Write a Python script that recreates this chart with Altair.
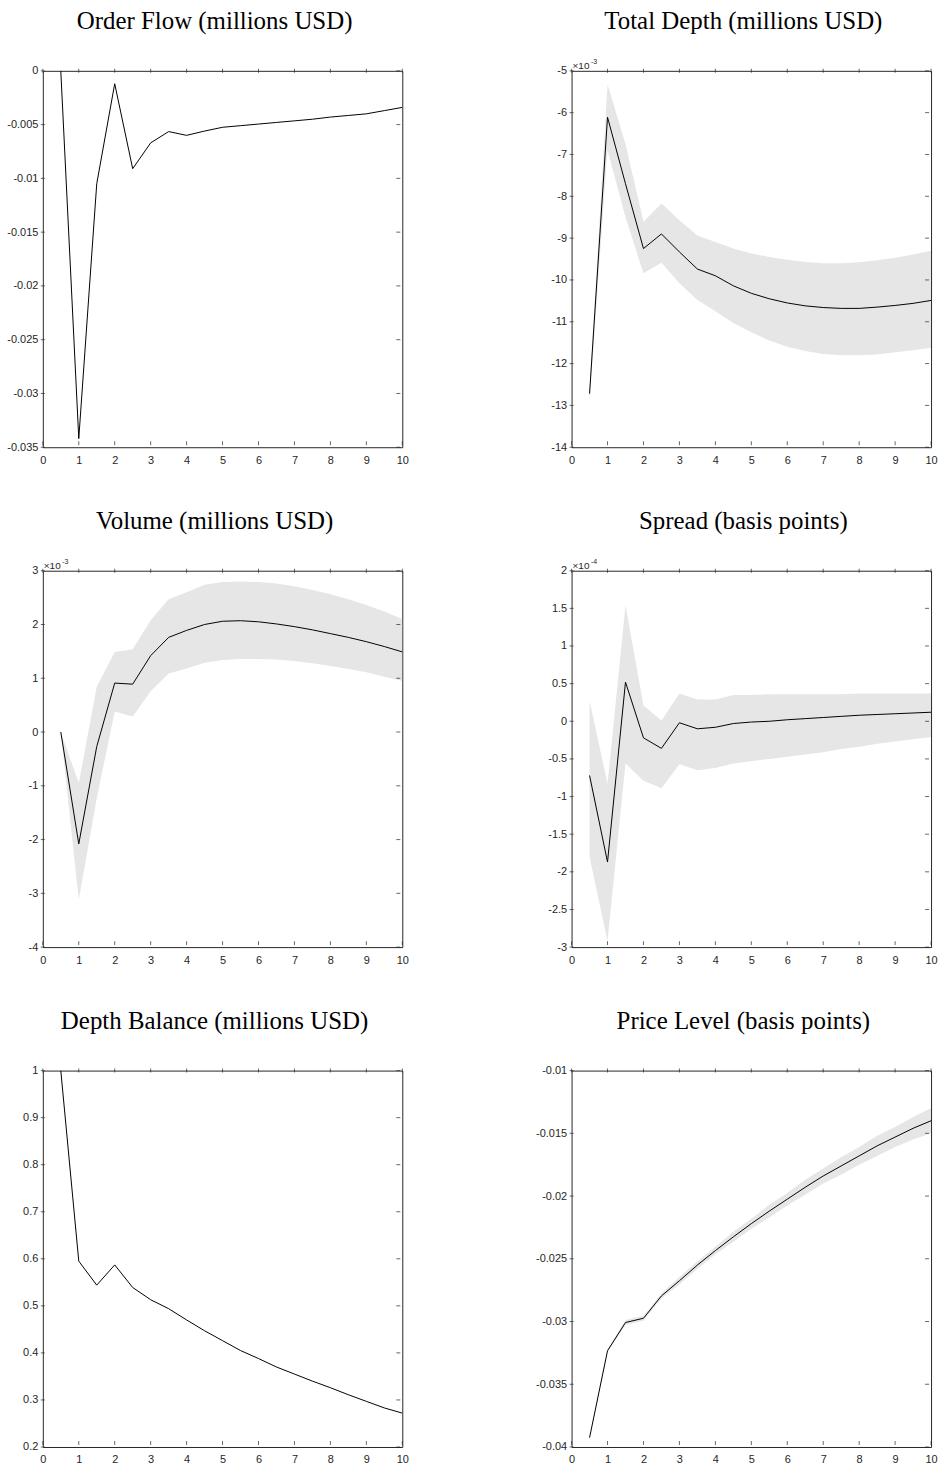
import altair as alt
import pandas as pd

# ---------------- data ----------------
xs = [0.5, 1, 1.5, 2, 2.5, 3, 3.5, 4, 4.5, 5, 5.5, 6, 6.5, 7, 7.5, 8, 8.5, 9, 9.5, 10]

order_flow = [0.0, -0.0342, -0.0105, -0.0012, -0.0091, -0.0067, -0.00565, -0.0060, -0.0056, -0.00525,
              -0.0051, -0.00495, -0.0048, -0.00465, -0.0045, -0.0043, -0.00415, -0.0040, -0.0037, -0.0034]

total_depth = [-12.72, -6.11, -7.7, -9.25, -8.90, -9.33, -9.74, -9.90, -10.14, -10.32,
               -10.45, -10.55, -10.62, -10.66, -10.68, -10.68, -10.65, -10.61, -10.56, -10.49]
total_depth_hi = [-12.6, -5.32, -6.75, -8.61, -8.17, -8.57, -8.94, -9.09, -9.25, -9.37,
                  -9.45, -9.52, -9.57, -9.60, -9.60, -9.58, -9.53, -9.47, -9.39, -9.30]
total_depth_lo = [-12.9, -6.9, -8.5, -9.84, -9.59, -10.08, -10.48, -10.75, -11.03, -11.25,
                  -11.45, -11.60, -11.70, -11.77, -11.80, -11.80, -11.78, -11.73, -11.68, -11.62]

volume = [0.0, -2.08, -0.27, 0.91, 0.89, 1.42, 1.76, 1.89, 2.0, 2.06,
          2.07, 2.05, 2.01, 1.96, 1.90, 1.83, 1.76, 1.68, 1.59, 1.49]
volume_hi = [0.0, -0.95, 0.84, 1.49, 1.54, 2.08, 2.47, 2.60, 2.74, 2.79,
             2.80, 2.79, 2.76, 2.71, 2.64, 2.56, 2.47, 2.36, 2.24, 2.10]
volume_lo = [0.0, -3.12, -1.23, 0.38, 0.29, 0.76, 1.09, 1.18, 1.29, 1.34,
             1.36, 1.36, 1.35, 1.32, 1.28, 1.23, 1.17, 1.11, 1.03, 0.95]

spread = [-0.72, -1.87, 0.52, -0.22, -0.36, -0.02, -0.10, -0.08, -0.03, -0.01,
          0.0, 0.02, 0.035, 0.05, 0.065, 0.08, 0.09, 0.10, 0.11, 0.12]
spread_hi = [0.27, -0.83, 1.54, 0.21, 0.01, 0.37, 0.29, 0.29, 0.35, 0.35,
             0.36, 0.36, 0.36, 0.36, 0.36, 0.37, 0.37, 0.37, 0.37, 0.37]
spread_lo = [-1.80, -2.92, -0.56, -0.79, -0.89, -0.57, -0.65, -0.62, -0.56, -0.53,
             -0.50, -0.47, -0.44, -0.41, -0.37, -0.34, -0.30, -0.27, -0.24, -0.21]

depth_balance = [1.0, 0.595, 0.544, 0.587, 0.539, 0.513, 0.494, 0.470, 0.447, 0.426,
                 0.405, 0.388, 0.370, 0.355, 0.340, 0.326, 0.311, 0.297, 0.283, 0.272]

price_level = [-0.03926, -0.03233, -0.03008, -0.02974, -0.02796, -0.02675, -0.0255, -0.02435, -0.02325, -0.0222,
               -0.0212, -0.02025, -0.0193, -0.0184, -0.0176, -0.0168, -0.0160, -0.0153, -0.0146, -0.0140]
price_level_hi = [-0.03921, -0.03223, -0.02988, -0.02954, -0.02776, -0.02645, -0.0252, -0.02405, -0.02285, -0.0218,
                  -0.0207, -0.01975, -0.0187, -0.0178, -0.0169, -0.0161, -0.0152, -0.0145, -0.0137, -0.0130]
price_level_lo = [-0.03931, -0.03243, -0.03028, -0.02994, -0.02816, -0.02705, -0.0258, -0.02465, -0.02365, -0.0226,
                  -0.0217, -0.02075, -0.0199, -0.0190, -0.0183, -0.0175, -0.0168, -0.0161, -0.0155, -0.0150]

x_ticks = [0, 1, 2, 3, 4, 5, 6, 7, 8, 9, 10]
of_ticks = [-0.035, -0.03, -0.025, -0.02, -0.015, -0.01, -0.005, 0]
td_ticks = [-14, -13, -12, -11, -10, -9, -8, -7, -6, -5]
vol_ticks = [-4, -3, -2, -1, 0, 1, 2, 3]
sp_ticks = [-3, -2.5, -2, -1.5, -1, -0.5, 0, 0.5, 1, 1.5, 2]
db_ticks = [0.2, 0.3, 0.4, 0.5, 0.6, 0.7, 0.8, 0.9, 1]
pl_ticks = [-0.04, -0.035, -0.03, -0.025, -0.02, -0.015, -0.01]

# ---------------- styling ----------------
W, H = 361, 378
AX = "#262626"
BAND = "#e6e6e6"
SANS = "Liberation Sans"
SERIF = "Liberation Serif"
TICK = 4


def panel(title, y, lo, hi, ydom, yvals, exp=None):
    xsc = alt.Scale(domain=[0, 10], nice=False, zero=False)
    ysc = alt.Scale(domain=ydom, nice=False, zero=False)
    common = dict(ticks=False, domain=False, grid=False, title=None,
                  labelFont=SANS, labelFontSize=11, labelColor=AX,
                  labelExpr="'' + datum.value", labelOverlap=False, labelFlush=False)
    xax = alt.Axis(values=x_ticks, labelPadding=7, **common)
    yax = alt.Axis(values=yvals, labelPadding=5, **common)

    layers = []
    if lo is not None:
        bdf = pd.DataFrame({"x": xs, "lo": lo, "hi": hi})
        layers.append(
            alt.Chart(bdf).mark_area(color=BAND, opacity=1, clip=True).encode(
                x=alt.X("x:Q", scale=xsc, axis=xax),
                y=alt.Y("lo:Q", scale=ysc, axis=yax),
                y2="hi:Q",
            )
        )
    ldf = pd.DataFrame({"x": xs, "y": y})
    layers.append(
        alt.Chart(ldf).mark_line(color="black", strokeWidth=1, clip=True).encode(
            x=alt.X("x:Q", scale=xsc, axis=xax),
            y=alt.Y("y:Q", scale=ysc, axis=yax),
        )
    )
    xt = pd.DataFrame({"t": x_ticks})
    yt = pd.DataFrame({"t": yvals})
    for ypos in (0, H - TICK):
        layers.append(
            alt.Chart(xt).mark_tick(orient="vertical", color=AX, thickness=1, size=TICK).encode(
                x=alt.X("t:Q", scale=xsc, axis=xax), y=alt.value(ypos)
            )
        )
    for xpos in (0, W - TICK):
        layers.append(
            alt.Chart(yt).mark_tick(orient="horizontal", color=AX, thickness=1, size=TICK).encode(
                y=alt.Y("t:Q", scale=ysc, axis=yax), x=alt.value(xpos)
            )
        )
    if exp is not None:
        layers.append(
            alt.Chart(pd.DataFrame({"t": ["\u00d710"]})).mark_text(
                align="left", baseline="alphabetic", font=SANS, fontSize=10, color=AX
            ).encode(x=alt.value(1), y=alt.value(-2), text="t:N")
        )
        layers.append(
            alt.Chart(pd.DataFrame({"t": [exp]})).mark_text(
                align="left", baseline="alphabetic", font=SANS, fontSize=7, color=AX
            ).encode(x=alt.value(19.5), y=alt.value(-7), text="t:N")
        )
    # panel title as a text mark
    layers.append(
        alt.Chart(pd.DataFrame({"t": [title]})).mark_text(
            align="center", baseline="alphabetic", font=SERIF, fontSize=25, color="black"
        ).encode(x=alt.value(W / 2 - 8), y=alt.value(-42), text="t:N")
    )
    return alt.layer(*layers).properties(width=W, height=H)


p1 = panel("Order Flow (millions USD)", order_flow, None, None, [-0.035, 0], of_ticks)
p2 = panel("Total Depth (millions USD)", total_depth, total_depth_lo, total_depth_hi, [-14, -5], td_ticks, "-3")
p3 = panel("Volume (millions USD)", volume, volume_lo, volume_hi, [-4, 3], vol_ticks, "-3")
p4 = panel("Spread (basis points)", spread, spread_lo, spread_hi, [-3, 2], sp_ticks, "-4")
p5 = panel("Depth Balance (millions USD)", depth_balance, None, None, [0.2, 1], db_ticks)
p6 = panel("Price Level (basis points)", price_level, price_level_lo, price_level_hi, [-0.04, -0.01], pl_ticks)

chart = alt.concat(p1, p2, p3, p4, p5, p6, columns=2).properties(
    spacing={"row": 124, "column": 170},
    bounds="flush",
    background="white",
    padding={"left": 6, "top": 5, "right": 5, "bottom": 5},
).configure_view(stroke=AX, strokeWidth=1)

chart.save("out.html", embed_options={"renderer": "svg", "actions": False})
